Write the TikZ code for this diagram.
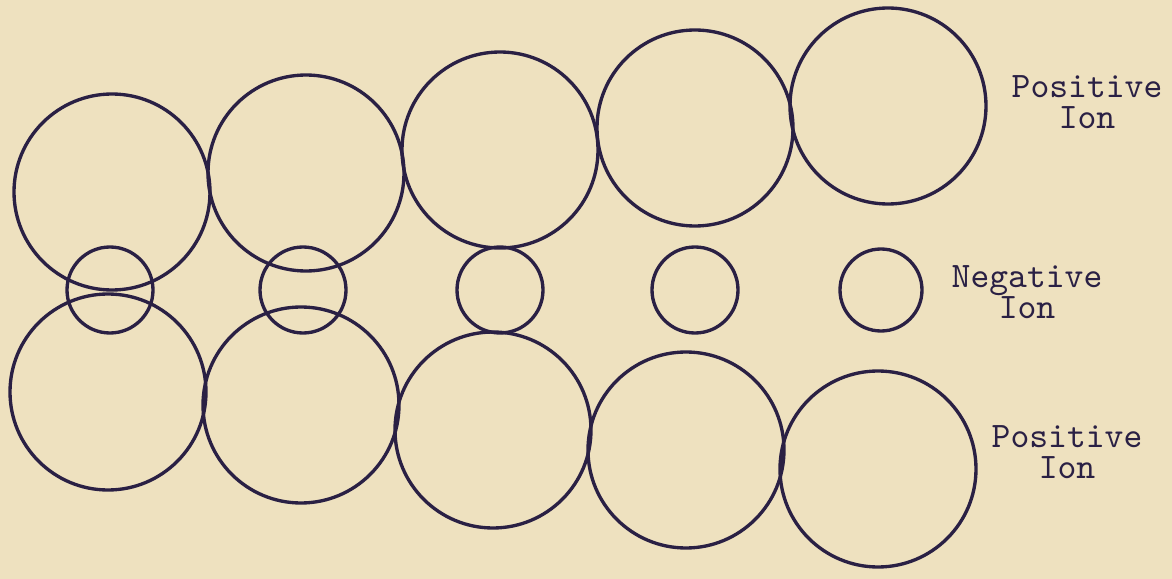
\documentclass[tikz,border=0pt]{standalone}
\usetikzlibrary{positioning}
\definecolor{PaperTan}{RGB}{238,225,191}
\definecolor{InkBlue}{RGB}{42,32,68}

\begin{document}
\begin{tikzpicture}[x=0.01cm,y=-0.01cm,
    ion/.style={InkBlue,line width=0.95pt},
    tag/.style={InkBlue,font=\ttfamily\fontsize{10.2}{8.8}\selectfont,
      align=center,inner sep=0pt}]
  \fill[PaperTan] (0,0) rectangle (1172,579);
  % upper row, positive ions
  \foreach \x/\y in {112/192,306/173,500/150,695/128,888/106}
    \draw[ion] (\x,\y) circle[radius=98];
  % middle row, negative ions
  \foreach \x/\r in {110/43,303/43,500/43,695/43,881/41}
    \draw[ion] (\x,290) circle[radius=\r];
  % lower row, positive ions
  \foreach \x/\y in {108/392,301/405,493/430,686/450,878/469}
    \draw[ion] (\x,\y) circle[radius=98];
  \node[tag] (posTop) at (1087,102) {Positive\\Ion};
  \node[tag] (neg) at (1027,292) {Negative\\Ion};
  \node[tag] (posBot) at (1067,452) {Positive\\Ion};
\end{tikzpicture}
\end{document}
